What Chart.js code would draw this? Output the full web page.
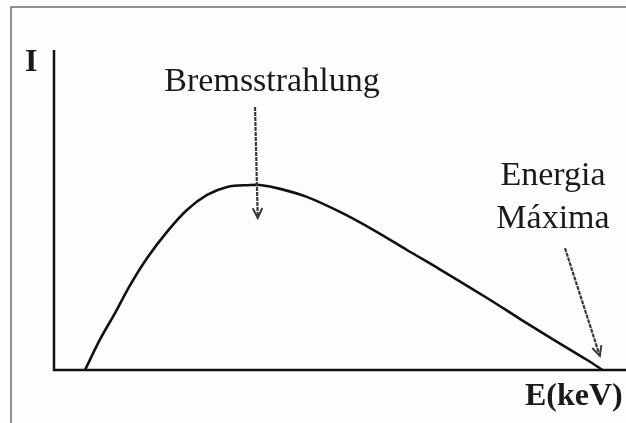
<!DOCTYPE html>
<html>
<head>
<meta charset="utf-8">
<script src="https://cdn.jsdelivr.net/npm/chart.js@4/dist/chart.umd.min.js"></script>
<style>
  body { margin: 0; background: #fdfdfd; }
  canvas { display: block; }
</style>
</head>
<body>
<canvas id="spectrum" width="626" height="423"></canvas>
<script>
// curve (arbitrary units)
const energy = [5.7, 8.4, 11.2, 14, 17.1, 20.7, 24.4, 28.1, 31.8, 36, 37.8, 41.5, 46.4, 52.5, 58.6, 64.8, 70.9, 79.5, 85.5, 91.6, 97.8, 100.7];
const intensity = [0, 9.4, 17.8, 26.6, 35, 43.1, 50, 54.7, 57.2, 57.8, 57.8, 56.6, 54.1, 49.4, 43.8, 37.5, 31.4, 22.5, 16.0, 9.6, 3.2, 0];

const xMax = 105;
const yMax = 100;

const serif = '"Liberation Serif", "Times New Roman", serif';

// axes, frame, labels and arrows
const sketchPlugin = {
  id: "sketch",
  beforeDraw(chart) {
    const { ctx, chartArea, scales } = chart;
    ctx.save();
    ctx.fillStyle = "#fdfdfd";
    ctx.fillRect(0, 0, chart.width, chart.height);
    // outer frame (top and left only)
    ctx.strokeStyle = "#6e6e6e";
    ctx.lineWidth = 1.5;
    ctx.beginPath();
    ctx.moveTo(chart.width, 7);
    ctx.lineTo(11, 7);
    ctx.lineTo(11, chart.height);
    ctx.stroke();
    // axes
    const x0 = scales.x.getPixelForValue(0);
    const y0 = scales.y.getPixelForValue(0);
    ctx.strokeStyle = "#111";
    ctx.lineWidth = 2.5;
    ctx.beginPath();
    ctx.moveTo(x0, chartArea.top);
    ctx.lineTo(x0, y0);
    ctx.lineTo(chart.width, y0);
    ctx.stroke();
    ctx.restore();
  },
  afterDraw(chart) {
    const { ctx, scales } = chart;
    const px = v => scales.x.getPixelForValue(v);
    const py = v => scales.y.getPixelForValue(v);

    const arrow = (xa, ya, xb, yb) => {
      const x1 = px(xa), y1 = py(ya), x2 = px(xb), y2 = py(yb);
      ctx.save();
      ctx.strokeStyle = "#3a3a3a";
      ctx.lineWidth = 2.2;
      ctx.setLineDash([4, 1]);
      ctx.beginPath();
      ctx.moveTo(x1, y1);
      ctx.lineTo(x2, y2);
      ctx.stroke();
      const ang = Math.atan2(y2 - y1, x2 - x1);
      ctx.setLineDash([]);
      ctx.lineWidth = 2;
      ctx.beginPath();
      ctx.moveTo(x2 - 11 * Math.cos(ang - 0.45), y2 - 11 * Math.sin(ang - 0.45));
      ctx.lineTo(x2, y2);
      ctx.lineTo(x2 - 11 * Math.cos(ang + 0.45), y2 - 11 * Math.sin(ang + 0.45));
      ctx.stroke();
      ctx.restore();
    };

    arrow(36.9, 82.2, 37.4, 47.5);
    arrow(93.8, 38.1, 100.2, 4.4);

    ctx.save();
    ctx.fillStyle = "#1a1a1a";
    ctx.textBaseline = "alphabetic";
    ctx.font = "34px " + serif;
    ctx.textAlign = "center";
    ctx.fillText("Bremsstrahlung", 272, 91);
    ctx.fillText("Energia", 553, 185);
    ctx.fillText("Máxima", 553, 228);

    ctx.font = "bold 32px " + serif;
    ctx.textAlign = "left";
    ctx.fillText("I", 25, 71);
    ctx.fillText("E(keV)", 525, 405);
    ctx.restore();
  }
};

new Chart(document.getElementById("spectrum"), {
  type: "line",
  data: {
    datasets: [
      {
        data: energy.map((e, i) => ({ x: e, y: intensity[i] })),
        borderColor: "#111",
        borderWidth: 2.6,
        pointRadius: 0,
        tension: 0.35,
        fill: false,
      },
    ],
  },
  options: {
    responsive: false,
    animation: false,
    devicePixelRatio: 1,
    layout: { padding: { left: 54, top: 50, right: 0, bottom: 53 } },
    plugins: { legend: { display: false }, tooltip: { enabled: false } },
    scales: {
      x: { type: "linear", min: 0, max: xMax, display: false },
      y: { type: "linear", min: 0, max: yMax, display: false },
    },
  },
  plugins: [sketchPlugin],
});
</script>
</body>
</html>
